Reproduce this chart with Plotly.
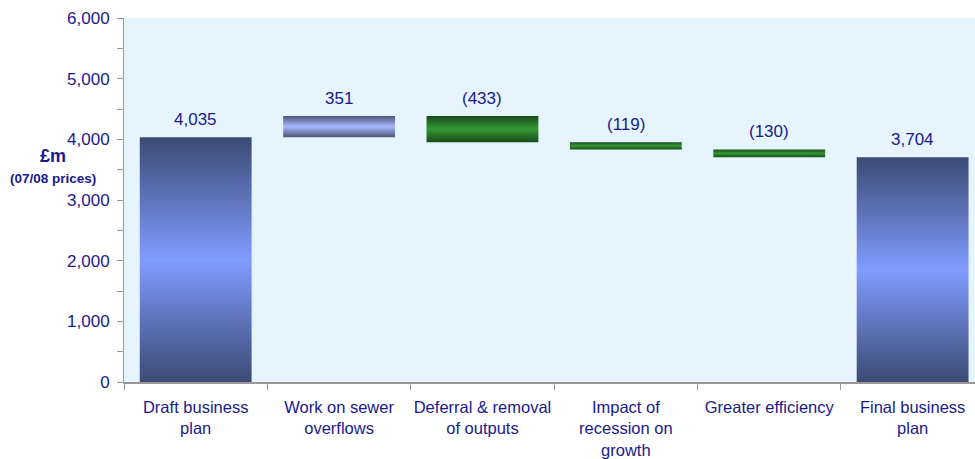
import plotly.graph_objects as go

categories = ["Draft business<br>plan", "Work on sewer<br>overflows", "Deferral & removal<br>of outputs",
              "Impact of<br>recession on<br>growth", "Greater efficiency", "Final business<br>plan"]
values = [4035, 351, -433, -119, -130, 3704]
measures = ["total", "relative", "relative", "relative", "relative", "total"]
y_ticks = [0, 1000, 2000, 3000, 4000, 5000, 6000]

NAVY = "#1a1a8c"
FONT = "Liberation Sans, Arial"
grad = {
    "total": [[0, "#3c4a74"], [0.5, "#809cff"], [1, "#3c4a74"]],
    "up": [[0, "#4a5577"], [0.5, "#a9b9ff"], [1, "#4a5577"]],
    "down": [[0, "#1a4a1a"], [0.5, "#339933"], [1, "#1a4a1a"]],
}

bar_w = 0.78
fig = go.Figure()

running = 0
tops = []
for i, (v, m) in enumerate(zip(values, measures)):
    if m == "total":
        lo, hi = 0, v
        running = v
        kind = "total"
    else:
        start = running
        running = running + v
        lo, hi = min(start, running), max(start, running)
        kind = "up" if v > 0 else "down"
    tops.append(hi)
    x0, x1 = i - bar_w / 2, i + bar_w / 2
    fig.add_trace(go.Scatter(
        x=[x0, x1, x1, x0, x0], y=[lo, lo, hi, hi, lo],
        mode="lines", line=dict(width=0), fill="toself",
        fillgradient=dict(type="vertical", colorscale=grad[kind]),
        hoverinfo="skip", showlegend=False,
    ))

def fmt(v, m):
    if m == "total" or v > 0:
        return f"{v:,}"
    return f"({abs(v):,})"

for i, (v, m) in enumerate(zip(values, measures)):
    fig.add_annotation(x=i, y=tops[i], text=fmt(v, m), showarrow=False,
                       yanchor="bottom", yshift=6,
                       font=dict(family=FONT, size=17, color=NAVY))

fig.add_annotation(xref="paper", yref="paper", x=-0.083, y=0.621, text="<b>£m</b>",
                   xanchor="center", showarrow=False,
                   font=dict(family=FONT, size=18, color=NAVY))
fig.add_annotation(xref="paper", yref="paper", x=-0.083, y=0.558, text="<b>(07/08 prices)</b>",
                   xanchor="center", showarrow=False,
                   font=dict(family=FONT, size=13.5, color=NAVY))

fig.update_layout(
    width=975, height=459,
    margin=dict(l=124, r=0, t=18, b=77),
    paper_bgcolor="white", plot_bgcolor="#e6f4fd",
    font=dict(family=FONT, size=17, color=NAVY),
    xaxis=dict(
        range=[-0.5, 5.435], tickmode="array",
        tickvals=list(range(len(categories))), ticktext=categories,
        ticks="", showgrid=False, zeroline=False,
        showline=True, linecolor="#999999", linewidth=2,
        minor=dict(tickmode="array", tickvals=[i - 0.5 for i in range(len(categories) + 1)],
                   ticks="outside", ticklen=6, tickcolor="#999999", showgrid=False),
        tickfont=dict(size=16.5, color=NAVY),
        ticklabelstandoff=9,
    ),
    yaxis=dict(
        range=[0, 6000], tickmode="array", tickvals=y_ticks, tickformat=",",
        ticks="outside", ticklen=6, tickcolor="#999999",
        showgrid=False, zeroline=False, showline=True, linecolor="#999999", linewidth=1,
        minor=dict(dtick=500, ticks="outside", ticklen=6, tickcolor="#999999", showgrid=False),
        tickfont=dict(size=17, color=NAVY),
        ticklabelstandoff=4,
    ),
)

fig.write_html("out.html")
